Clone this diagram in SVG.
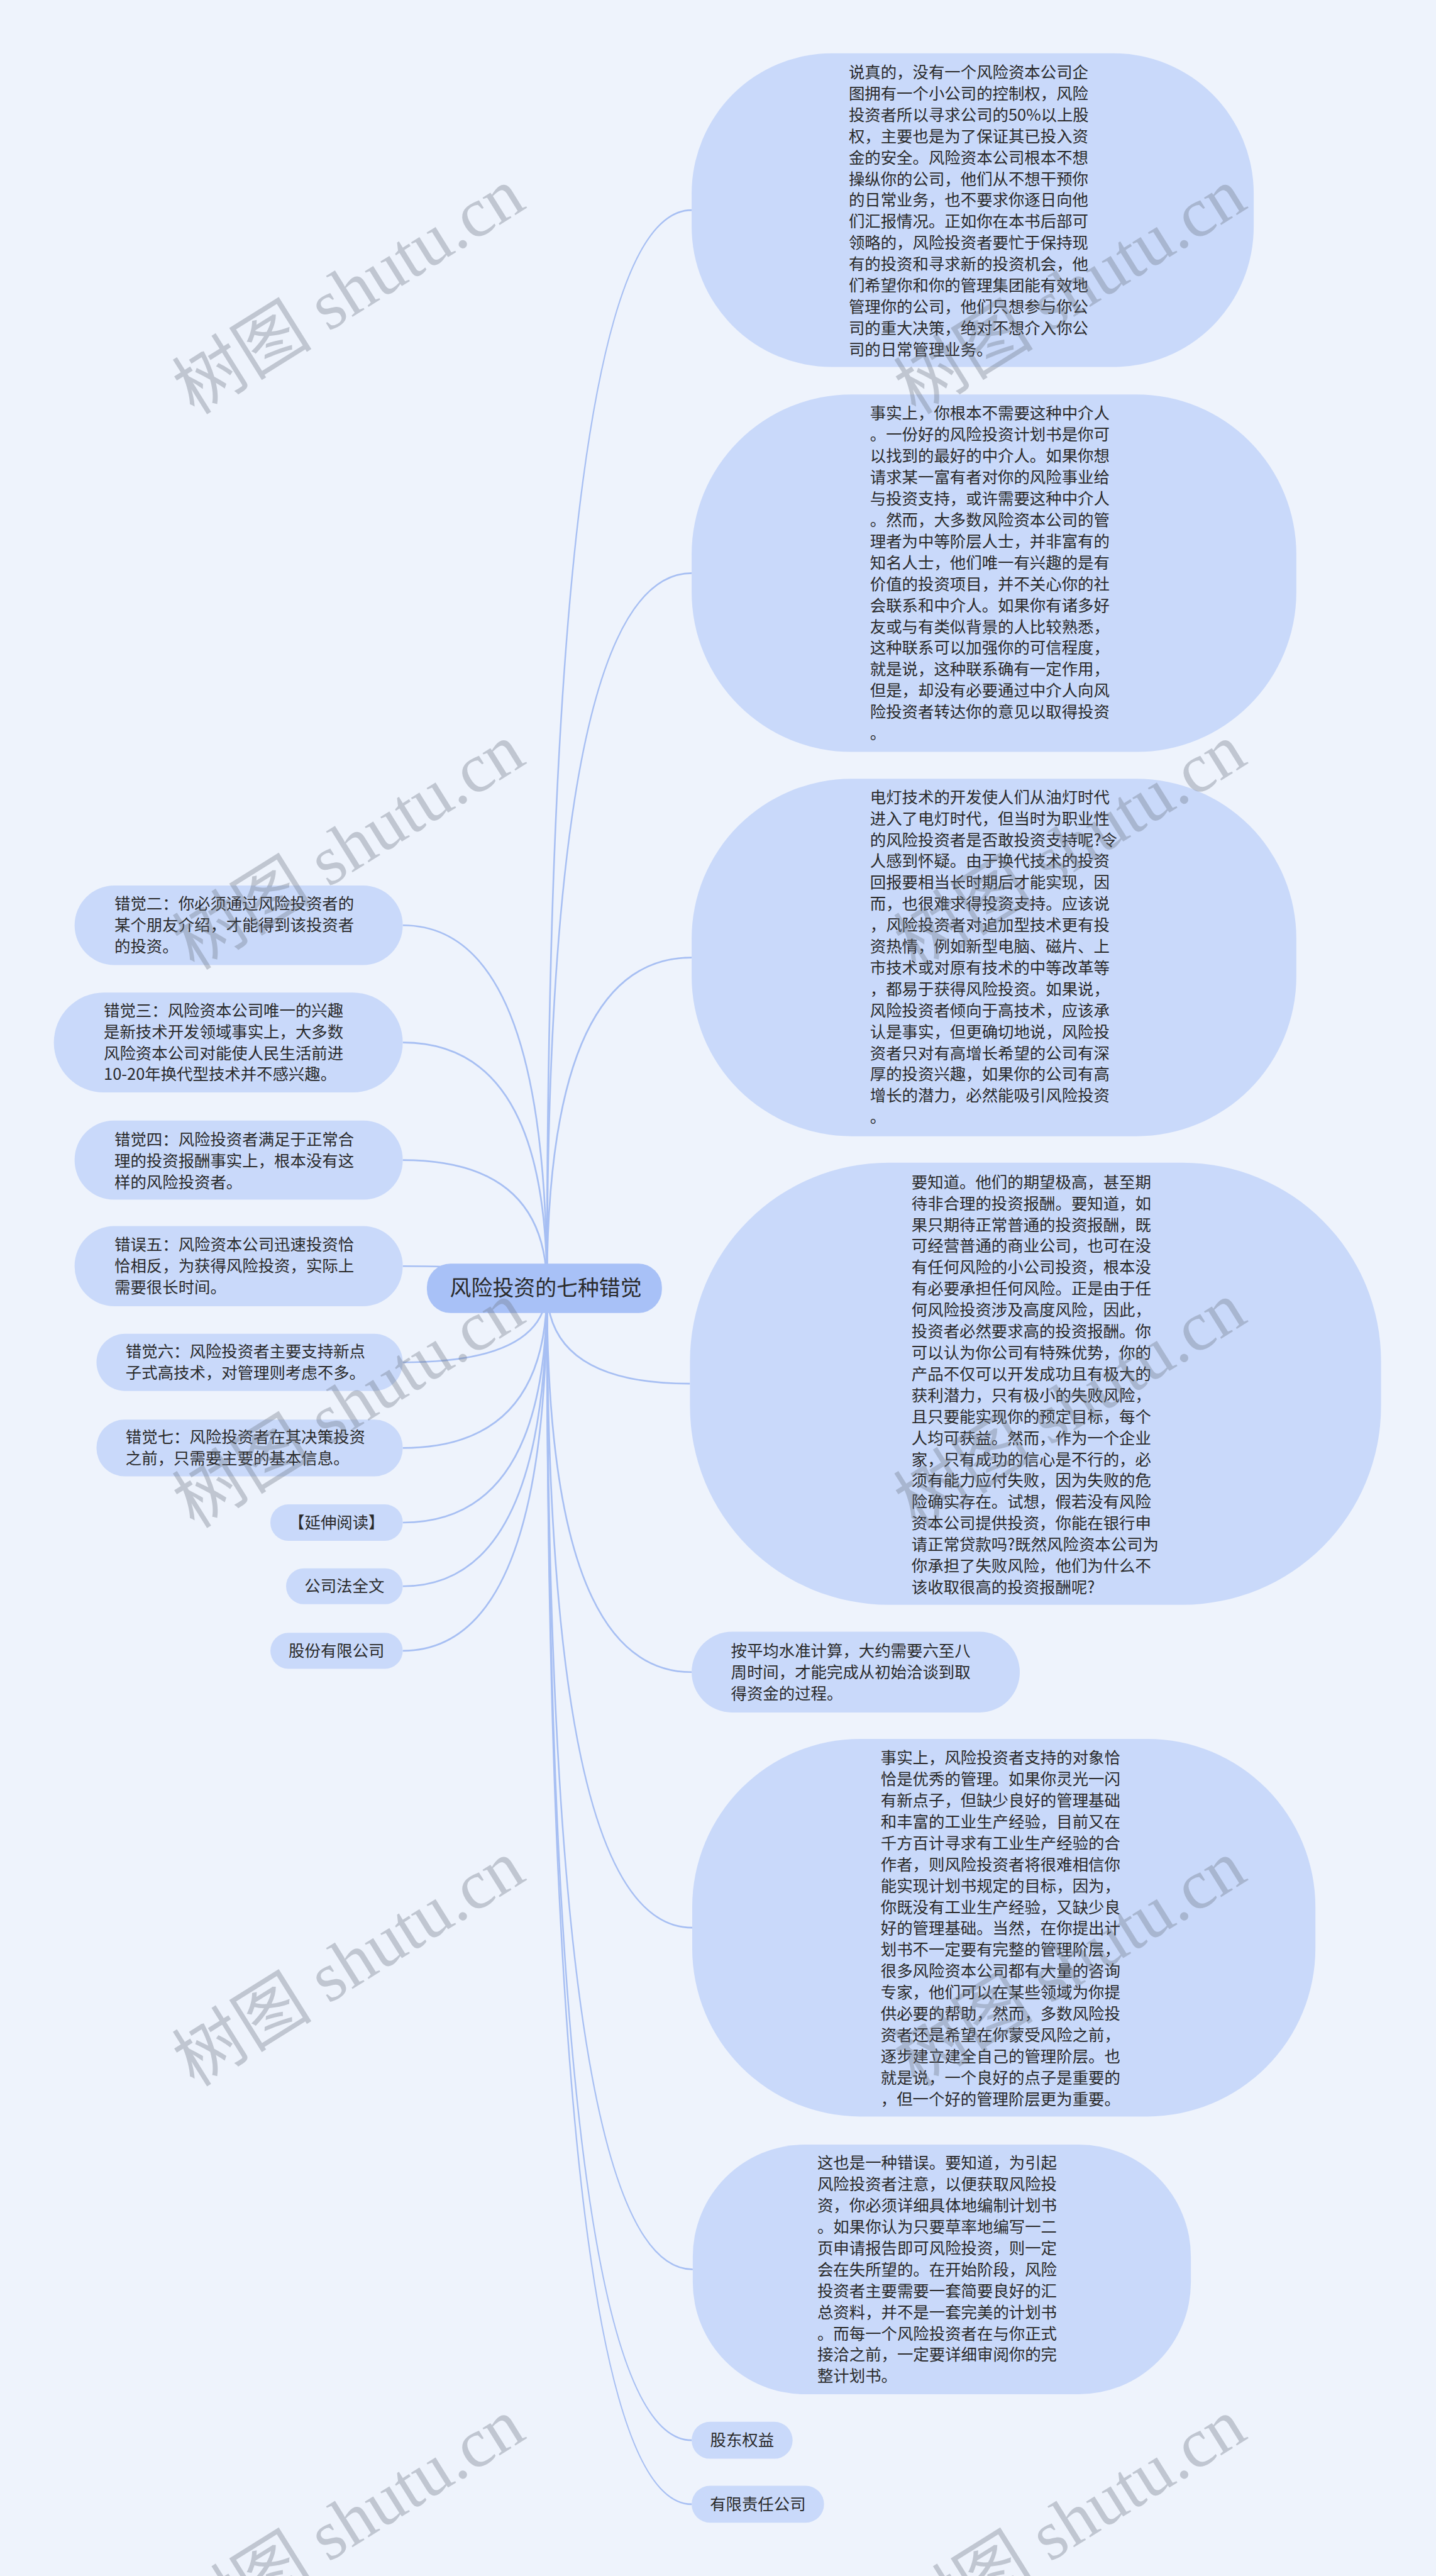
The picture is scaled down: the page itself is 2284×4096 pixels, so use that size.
<svg xmlns="http://www.w3.org/2000/svg" width="2284" height="4096" viewBox="0 0 2284 4096">
<style>
.bg{fill:#eef3fc}
.node{fill:#c9d9fa}
.root{fill:#a8c1f7}
.t{font-family:"Noto Sans CJK SC","Noto Sans",sans-serif;font-size:28.5px;fill:#2a2a2a}
.m{text-anchor:middle}
.rt{font-family:"Noto Sans CJK SC","Noto Sans",sans-serif;font-size:38px;fill:#2a2a2a;text-anchor:middle}
.c{fill:none;stroke:#a7bff3;stroke-width:3}
.wm{font-family:"Liberation Serif","Noto Sans CJK SC",serif;font-size:125px;fill:#6f7784;fill-opacity:0.36;text-anchor:middle}
</style>
<rect class="bg" x="0" y="0" width="2284" height="4096"/>
<g transform="scale(0.8922)">
<g id="connectors">
<path class="c" d="M975,2296 Q975,374.5 1233,374.5"/>
<path class="c" d="M975,2296 Q975,1021.5 1233,1021.5"/>
<path class="c" d="M975,2296 Q975,1706.5 1233,1706.5"/>
<path class="c" d="M975,2296 Q975,2466 1230,2466"/>
<path class="c" d="M975,2296 Q975,2980 1233,2980"/>
<path class="c" d="M975,2296 Q975,3435.5 1234,3435.5"/>
<path class="c" d="M975,2296 Q975,4044.5 1235,4044.5"/>
<path class="c" d="M975,2296 Q975,4349 1233,4349"/>
<path class="c" d="M975,2296 Q975,4463 1233,4463"/>
<path class="c" d="M975,2296 Q975,1649 718,1649"/>
<path class="c" d="M975,2296 Q975,1858 718,1858"/>
<path class="c" d="M975,2296 Q975,2067.5 718,2067.5"/>
<path class="c" d="M975,2296 Q975,2256.5 718,2256.5"/>
<path class="c" d="M975,2296 Q975,2428 718,2428"/>
<path class="c" d="M975,2296 Q975,2580.5 718,2580.5"/>
<path class="c" d="M975,2296 Q975,2713.5 718,2713.5"/>
<path class="c" d="M975,2296 Q975,2827 718,2827"/>
<path class="c" d="M975,2296 Q975,2942 718,2942"/>
</g>
<g id="root">
<rect class="root" x="761" y="2252" width="419" height="88" rx="42"/>
<text class="rt" x="973" y="2309">风险投资的七种错觉</text>
</g>
<g id="n1">
<rect class="node" x="1233" y="95" width="1002" height="559" rx="250"/>
<text class="t"><tspan x="1513" y="139">说真的，没有一个风险资本公司企</tspan><tspan x="1513" y="177">图拥有一个小公司的控制权，风险</tspan><tspan x="1513" y="215">投资者所以寻求公司的50%以上股</tspan><tspan x="1513" y="253">权，主要也是为了保证其已投入资</tspan><tspan x="1513" y="291">金的安全。风险资本公司根本不想</tspan><tspan x="1513" y="329">操纵你的公司，他们从不想干预你</tspan><tspan x="1513" y="367">的日常业务，也不要求你逐日向他</tspan><tspan x="1513" y="405">们汇报情况。正如你在本书后部可</tspan><tspan x="1513" y="443">领略的，风险投资者要忙于保持现</tspan><tspan x="1513" y="481">有的投资和寻求新的投资机会，他</tspan><tspan x="1513" y="519">们希望你和你的管理集团能有效地</tspan><tspan x="1513" y="557">管理你的公司，他们只想参与你公</tspan><tspan x="1513" y="595">司的重大决策，绝对不想介入你公</tspan><tspan x="1513" y="633">司的日常管理业务。</tspan></text>
</g>
<g id="n2">
<rect class="node" x="1233" y="703" width="1078" height="637" rx="285"/>
<text class="t"><tspan x="1551" y="747">事实上，你根本不需要这种中介人</tspan><tspan x="1551" y="785">。一份好的风险投资计划书是你可</tspan><tspan x="1551" y="823">以找到的最好的中介人。如果你想</tspan><tspan x="1551" y="861">请求某一富有者对你的风险事业给</tspan><tspan x="1551" y="899">与投资支持，或许需要这种中介人</tspan><tspan x="1551" y="937">。然而，大多数风险资本公司的管</tspan><tspan x="1551" y="975">理者为中等阶层人士，并非富有的</tspan><tspan x="1551" y="1013">知名人士，他们唯一有兴趣的是有</tspan><tspan x="1551" y="1051">价值的投资项目，并不关心你的社</tspan><tspan x="1551" y="1089">会联系和中介人。如果你有诸多好</tspan><tspan x="1551" y="1127">友或与有类似背景的人比较熟悉，</tspan><tspan x="1551" y="1165">这种联系可以加强你的可信程度，</tspan><tspan x="1551" y="1203">就是说，这种联系确有一定作用，</tspan><tspan x="1551" y="1241">但是，却没有必要通过中介人向风</tspan><tspan x="1551" y="1279">险投资者转达你的意见以取得投资</tspan><tspan x="1551" y="1317">。</tspan></text>
</g>
<g id="n3">
<rect class="node" x="1233" y="1388" width="1078" height="637" rx="285"/>
<text class="t"><tspan x="1551" y="1431">电灯技术的开发使人们从油灯时代</tspan><tspan x="1551" y="1469">进入了电灯时代，但当时为职业性</tspan><tspan x="1551" y="1507">的风险投资者是否敢投资支持呢?令</tspan><tspan x="1551" y="1545">人感到怀疑。由于换代技术的投资</tspan><tspan x="1551" y="1583">回报要相当长时期后才能实现，因</tspan><tspan x="1551" y="1621">而，也很难求得投资支持。应该说</tspan><tspan x="1551" y="1659">，风险投资者对追加型技术更有投</tspan><tspan x="1551" y="1697">资热情，例如新型电脑、磁片、上</tspan><tspan x="1551" y="1735">市技术或对原有技术的中等改革等</tspan><tspan x="1551" y="1773">，都易于获得风险投资。如果说，</tspan><tspan x="1551" y="1811">风险投资者倾向于高技术，应该承</tspan><tspan x="1551" y="1849">认是事实，但更确切地说，风险投</tspan><tspan x="1551" y="1887">资者只对有高增长希望的公司有深</tspan><tspan x="1551" y="1925">厚的投资兴趣，如果你的公司有高</tspan><tspan x="1551" y="1963">增长的潜力，必然能吸引风险投资</tspan><tspan x="1551" y="2001">。</tspan></text>
</g>
<g id="n4">
<rect class="node" x="1230" y="2072" width="1232" height="788" rx="354"/>
<text class="t"><tspan x="1625" y="2117">要知道。他们的期望极高，甚至期</tspan><tspan x="1625" y="2155">待非合理的投资报酬。要知道，如</tspan><tspan x="1625" y="2193">果只期待正常普通的投资报酬，既</tspan><tspan x="1625" y="2231">可经营普通的商业公司，也可在没</tspan><tspan x="1625" y="2269">有任何风险的小公司投资，根本没</tspan><tspan x="1625" y="2307">有必要承担任何风险。正是由于任</tspan><tspan x="1625" y="2345">何风险投资涉及高度风险，因此，</tspan><tspan x="1625" y="2383">投资者必然要求高的投资报酬。你</tspan><tspan x="1625" y="2421">可以认为你公司有特殊优势，你的</tspan><tspan x="1625" y="2459">产品不仅可以开发成功且有极大的</tspan><tspan x="1625" y="2497">获利潜力，只有极小的失败风险，</tspan><tspan x="1625" y="2535">且只要能实现你的预定目标，每个</tspan><tspan x="1625" y="2573">人均可获益。然而，作为一个企业</tspan><tspan x="1625" y="2611">家，只有成功的信心是不行的，必</tspan><tspan x="1625" y="2649">须有能力应付失败，因为失败的危</tspan><tspan x="1625" y="2687">险确实存在。试想，假若没有风险</tspan><tspan x="1625" y="2725">资本公司提供投资，你能在银行申</tspan><tspan x="1625" y="2763">请正常贷款吗?既然风险资本公司为</tspan><tspan x="1625" y="2801">你承担了失败风险，他们为什么不</tspan><tspan x="1625" y="2839">该收取很高的投资报酬呢?</tspan></text>
</g>
<g id="n5">
<rect class="node" x="1233" y="2908" width="585" height="144" rx="72"/>
<text class="t"><tspan x="1303" y="2952">按平均水准计算，大约需要六至八</tspan><tspan x="1303" y="2990">周时间，才能完成从初始洽谈到取</tspan><tspan x="1303" y="3028">得资金的过程。</tspan></text>
</g>
<g id="n6">
<rect class="node" x="1234" y="3099" width="1111" height="673" rx="300"/>
<text class="t"><tspan x="1570" y="3143">事实上，风险投资者支持的对象恰</tspan><tspan x="1570" y="3181">恰是优秀的管理。如果你灵光一闪</tspan><tspan x="1570" y="3219">有新点子，但缺少良好的管理基础</tspan><tspan x="1570" y="3257">和丰富的工业生产经验，目前又在</tspan><tspan x="1570" y="3295">千方百计寻求有工业生产经验的合</tspan><tspan x="1570" y="3333">作者，则风险投资者将很难相信你</tspan><tspan x="1570" y="3371">能实现计划书规定的目标，因为，</tspan><tspan x="1570" y="3409">你既没有工业生产经验，又缺少良</tspan><tspan x="1570" y="3447">好的管理基础。当然，在你提出计</tspan><tspan x="1570" y="3485">划书不一定要有完整的管理阶层，</tspan><tspan x="1570" y="3523">很多风险资本公司都有大量的咨询</tspan><tspan x="1570" y="3561">专家，他们可以在某些领域为你提</tspan><tspan x="1570" y="3599">供必要的帮助，然而，多数风险投</tspan><tspan x="1570" y="3637">资者还是希望在你蒙受风险之前，</tspan><tspan x="1570" y="3675">逐步建立建全自己的管理阶层。也</tspan><tspan x="1570" y="3713">就是说，一个良好的点子是重要的</tspan><tspan x="1570" y="3751">，但一个好的管理阶层更为重要。</tspan></text>
</g>
<g id="n7">
<rect class="node" x="1235" y="3822" width="888" height="445" rx="200"/>
<text class="t"><tspan x="1457" y="3865">这也是一种错误。要知道，为引起</tspan><tspan x="1457" y="3903">风险投资者注意，以便获取风险投</tspan><tspan x="1457" y="3941">资，你必须详细具体地编制计划书</tspan><tspan x="1457" y="3979">。如果你认为只要草率地编写一二</tspan><tspan x="1457" y="4017">页申请报告即可风险投资，则一定</tspan><tspan x="1457" y="4055">会在失所望的。在开始阶段，风险</tspan><tspan x="1457" y="4093">投资者主要需要一套简要良好的汇</tspan><tspan x="1457" y="4131">总资料，并不是一套完美的计划书</tspan><tspan x="1457" y="4169">。而每一个风险投资者在与你正式</tspan><tspan x="1457" y="4207">接洽之前，一定要详细审阅你的完</tspan><tspan x="1457" y="4245">整计划书。</tspan></text>
</g>
<g id="n8">
<rect class="node" x="1233" y="4316" width="180" height="66" rx="33"/>
<text class="t m" x="1323" y="4359">股东权益</text>
</g>
<g id="n9">
<rect class="node" x="1233" y="4430" width="236" height="66" rx="33"/>
<text class="t m" x="1351" y="4473">有限责任公司</text>
</g>
<g id="l2">
<rect class="node" x="133" y="1578" width="585" height="142" rx="71"/>
<text class="t"><tspan x="204" y="1621">错觉二：你必须通过风险投资者的</tspan><tspan x="204" y="1659">某个朋友介绍，才能得到该投资者</tspan><tspan x="204" y="1697">的投资。</tspan></text>
</g>
<g id="l3">
<rect class="node" x="96" y="1769" width="622" height="178" rx="89"/>
<text class="t"><tspan x="185" y="1811">错觉三：风险资本公司唯一的兴趣</tspan><tspan x="185" y="1849">是新技术开发领域事实上，大多数</tspan><tspan x="185" y="1887">风险资本公司对能使人民生活前进</tspan><tspan x="185" y="1925">10-20年换代型技术并不感兴趣。</tspan></text>
</g>
<g id="l4">
<rect class="node" x="133" y="1997" width="585" height="141" rx="70"/>
<text class="t"><tspan x="204" y="2041">错觉四：风险投资者满足于正常合</tspan><tspan x="204" y="2079">理的投资报酬事实上，根本没有这</tspan><tspan x="204" y="2117">样的风险投资者。</tspan></text>
</g>
<g id="l5">
<rect class="node" x="133" y="2185" width="585" height="143" rx="71"/>
<text class="t"><tspan x="204" y="2228">错误五：风险资本公司迅速投资恰</tspan><tspan x="204" y="2266">恰相反，为获得风险投资，实际上</tspan><tspan x="204" y="2304">需要很长时间。</tspan></text>
</g>
<g id="l6">
<rect class="node" x="172" y="2377" width="546" height="102" rx="51"/>
<text class="t"><tspan x="224" y="2419">错觉六：风险投资者主要支持新点</tspan><tspan x="224" y="2457">子式高技术，对管理则考虑不多。</tspan></text>
</g>
<g id="l7">
<rect class="node" x="172" y="2530" width="546" height="101" rx="50"/>
<text class="t"><tspan x="224" y="2571">错觉七：风险投资者在其决策投资</tspan><tspan x="224" y="2609">之前，只需要主要的基本信息。</tspan></text>
</g>
<g id="l8">
<rect class="node" x="482" y="2681" width="236" height="65" rx="32"/>
<text class="t m" x="600" y="2724">【延伸阅读】</text>
</g>
<g id="l9">
<rect class="node" x="510" y="2795" width="208" height="64" rx="32"/>
<text class="t m" x="614" y="2837">公司法全文</text>
</g>
<g id="l10">
<rect class="node" x="482" y="2910" width="236" height="64" rx="32"/>
<text class="t m" x="600" y="2952">股份有限公司</text>
</g>
<g id="watermarks">
<text class="wm" transform="translate(644,555) rotate(-32)">树图 shutu.cn</text>
<text class="wm" transform="translate(1930,555) rotate(-32)">树图 shutu.cn</text>
<text class="wm" transform="translate(644,1545) rotate(-32)">树图 shutu.cn</text>
<text class="wm" transform="translate(1930,1545) rotate(-32)">树图 shutu.cn</text>
<text class="wm" transform="translate(644,2540) rotate(-32)">树图 shutu.cn</text>
<text class="wm" transform="translate(1930,2540) rotate(-32)">树图 shutu.cn</text>
<text class="wm" transform="translate(644,3535) rotate(-32)">树图 shutu.cn</text>
<text class="wm" transform="translate(1930,3535) rotate(-32)">树图 shutu.cn</text>
<text class="wm" transform="translate(644,4530) rotate(-32)">树图 shutu.cn</text>
<text class="wm" transform="translate(1930,4530) rotate(-32)">树图 shutu.cn</text>
</g>
</g>
</svg>
